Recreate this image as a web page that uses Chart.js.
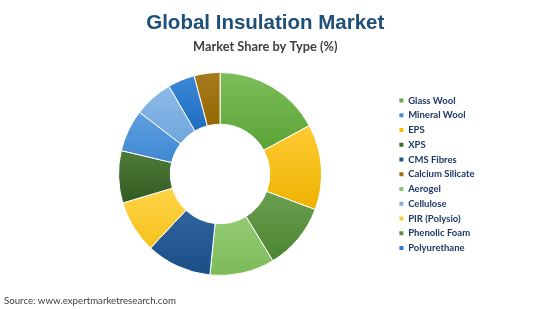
<!DOCTYPE html>
<html>
<head>
<meta charset="utf-8">
<script src="https://cdn.jsdelivr.net/npm/chart.js@4/dist/chart.umd.min.js"></script>
<style>
  html, body { margin: 0; padding: 0; background: #fff; }
  #wrap { position: relative; width: 550px; height: 309px; }
  #source { position: absolute; left: 4px; top: 294px; font: 9.7px Lato, sans-serif; color: #404040; }
</style>
</head>
<body>
<div id="wrap">
  <canvas id="chart-insulation" width="550" height="309"></canvas>
  <div id="source">Source: www.expertmarketresearch.com</div>
</div>
<script>
// Slice order (clockwise from 12 o'clock)
const LABELS = ['Glass Wool', 'EPS', 'Phenolic Foam', 'Aerogel', 'CMS Fibres', 'PIR (Polysio)', 'XPS', 'Mineral Wool', 'Cellulose', 'Polyurethane', 'Calcium Silicate'];
const SHARES = [17.1, 13.6, 10.6, 10.3, 10.4, 8.4, 8.3, 6.7, 6.2, 4.3, 4.1];
// Legend order as in the picture
const LEGEND_ORDER = ['Glass Wool', 'Mineral Wool', 'EPS', 'XPS', 'CMS Fibres', 'Calcium Silicate', 'Aerogel', 'Cellulose', 'PIR (Polysio)', 'Phenolic Foam', 'Polyurethane'];

const TOP_COLORS = ['#7dbe5a', '#ffcb33', '#6a9f50', '#94cb75', '#2f64a0', '#ffd447', '#4f7c3a', '#5fa0e0', '#8dbbe8', '#3c88d8', '#a57a1e'];
const BOTTOM_COLORS = ['#5ba336', '#edb300', '#4b8530', '#7bbb57', '#1c4e85', '#f5c21c', '#325a20', '#3f88d2', '#6ea6dc', '#1f6bbe', '#956800'];
const LEGEND_COLORS = ['#6cb044', '#ffc000', '#5a9440', '#8cc56a', '#24588f', '#ffcd33', '#3f6b2c', '#4a90d8', '#7fb1e2', '#2c78c8', '#9c6e0c'];

const CUTOUT = 0.49;

// vertical gradient over each slice's own extent
function sliceFill(ctx) {
  const i = ctx.dataIndex;
  const chart = ctx.chart;
  const area = chart.chartArea;
  if (!area) return LEGEND_COLORS[i];
  const cx = (area.left + area.right) / 2;
  const cy = (area.top + area.bottom) / 2;
  const R = Math.min(area.right - area.left, area.bottom - area.top) / 2;
  const r = R * CUTOUT;
  const total = SHARES.reduce((a, b) => a + b, 0);
  let before = 0;
  for (let k = 0; k < i; k++) before += SHARES[k];
  const a0 = -Math.PI / 2 + before / total * Math.PI * 2;
  const a1 = a0 + SHARES[i] / total * Math.PI * 2;
  let minY = Infinity, maxY = -Infinity;
  for (let s = 0; s <= 30; s++) {
    const a = a0 + (a1 - a0) * s / 30;
    for (const rad of [R, r]) {
      const y = cy + Math.sin(a) * rad;
      if (y < minY) minY = y;
      if (y > maxY) maxY = y;
    }
  }
  const g = chart.ctx.createLinearGradient(0, minY, 0, maxY);
  g.addColorStop(0, TOP_COLORS[i]);
  g.addColorStop(1, BOTTOM_COLORS[i]);
  return g;
}

new Chart(document.getElementById('chart-insulation'), {
  type: 'doughnut',
  data: {
    labels: LABELS,
    datasets: [{
      data: SHARES,
      backgroundColor: sliceFill,
      borderColor: '#ffffff',
      borderWidth: 1,
      hoverOffset: 0
    }]
  },
  options: {
    responsive: false,
    animation: false,
    cutout: (CUTOUT * 100) + '%',
    layout: { padding: { left: 46, right: 65.5, top: 0, bottom: 33 } },
    plugins: {
      title: {
        display: true,
        text: 'Global Insulation Market',
        color: '#1f4e79',
        font: { family: '"Liberation Sans", Arial, sans-serif', size: 20.5, weight: 'bold', lineHeight: 1.2 },
        padding: { top: 11, bottom: 4 }
      },
      subtitle: {
        display: true,
        text: 'Market Share by Type (%)',
        color: '#404040',
        font: { family: 'Lato, sans-serif', size: 12.8, weight: 'bold', lineHeight: 1.2 },
        padding: { top: 0, bottom: 17 }
      },
      legend: {
        position: 'right',
        align: 'start',
        // empty title used as a spacer so the items sit beside the ring
        title: { display: true, text: ' ', font: { size: 10, lineHeight: 1 }, padding: { top: 80.5, bottom: 0 } },
        labels: {
          boxWidth: 4,
          boxHeight: 4,
          padding: 5.26,
          color: '#1f3864',
          font: { family: 'Lato, sans-serif', size: 9.5, weight: 'bold' },
          generateLabels: (chart) => LABELS.map((name, i) => ({
            text: name,
            fillStyle: LEGEND_COLORS[i],
            strokeStyle: LEGEND_COLORS[i],
            lineWidth: 0,
            fontColor: '#1f3864',
            hidden: false,
            index: i
          })),
          sort: (a, b) => LEGEND_ORDER.indexOf(a.text) - LEGEND_ORDER.indexOf(b.text)
        }
      },
      tooltip: { enabled: false }
    }
  }
});
</script>
</body>
</html>
